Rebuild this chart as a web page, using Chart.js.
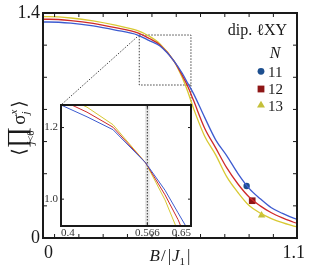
<!DOCTYPE html>
<html>
<head>
<meta charset="utf-8">
<script src="https://cdn.jsdelivr.net/npm/chart.js@4.4.1/dist/chart.umd.min.js"></script>
<style>
  html, body { margin: 0; padding: 0; background: #fff; }
  #wrap { position: relative; width: 312px; height: 267px; overflow: hidden; }
  #main { position: absolute; left: 0; top: 0; }
  #inset { position: absolute; left: 40px; top: 100px; }
</style>
</head>
<body>
<div id="wrap">
  <canvas id="main" width="312" height="267"></canvas>
  <canvas id="inset" width="156" height="142"></canvas>
</div>
<script>
const fieldB = [-0.025, 0, 0.1, 0.2, 0.3, 0.4, 0.45, 0.5, 0.563, 0.6, 0.625, 0.65, 0.7, 0.75, 0.8, 0.85, 0.9, 0.95, 1.0, 1.05, 1.1, 1.125];
const mag11 = [1.344, 1.344, 1.337, 1.320, 1.294, 1.263, 1.230, 1.194, 1.101, 1.025, 0.962, 0.900, 0.752, 0.611, 0.511, 0.401, 0.309, 0.244, 0.188, 0.153, 0.123, 0.112];
const mag12 = [1.361, 1.361, 1.353, 1.336, 1.309, 1.277, 1.243, 1.201, 1.101, 1.012, 0.943, 0.858, 0.685, 0.561, 0.436, 0.336, 0.255, 0.200, 0.157, 0.125, 0.098, 0.089];
const mag13 = [1.377, 1.377, 1.369, 1.351, 1.324, 1.290, 1.257, 1.208, 1.101, 0.998, 0.910, 0.808, 0.635, 0.517, 0.380, 0.283, 0.202, 0.155, 0.121, 0.095, 0.074, 0.068];
const sizes = ['11', '12', '13'];
const markerB = [0.889, 0.914, 0.956];
const markerMag = [0.324, 0.232, 0.141];

const xTickValues = [0, 1.1];
const xTickLabels = ['0', '1.1'];
const yTickValues = [0, 1.4];
const yTickLabels = ['0', '1.4'];
const xMinorTicks = [0.027, 0.136, 0.245, 0.354, 0.464, 0.573, 0.682, 0.791, 0.900, 1.009];
const yMinorTicks = [0.2, 0.4, 0.6, 0.8, 1.0, 1.2];

const insetXTickValues = [0.4, 0.566, 0.65];
const insetXTickLabels = ['0.4', '0.566', '0.65'];
const insetYTickValues = [1.0, 1.2];
const insetYTickLabels = ['1.0', '1.2'];
const criticalB = 0.566;
const zoomBoxB = [0.407, 0.639];
const zoomBoxMag = [0.952, 1.263];

const SERIF = '"Liberation Serif", "DejaVu Serif", serif';
const INK = '#1a1a1a';
const LINE_COLORS = ['#3d5bd0', '#cf2a2a', '#d8c932'];
const MARK_COLORS = ['#1d4f8f', '#8e1616', '#c4c03a'];
const MARK_STYLES = ['circle', 'rect', 'triangle'];
const INSET_POS = { left: 40, top: 100 };

Chart.defaults.font.family = SERIF;

function fixSize(prop, size) {
  return s => {
    s[prop] = size;
    s.paddingTop = s.paddingBottom = s.paddingLeft = s.paddingRight = 0;
  };
}

function curveSets(width, smooth) {
  return [mag11, mag12, mag13].map((vals, i) => ({
    label: 'N = ' + sizes[i],
    data: fieldB.map((b, j) => ({ x: b, y: vals[j] })),
    showLine: true,
    borderColor: LINE_COLORS[i],
    borderWidth: width,
    pointRadius: 0,
    tension: 0,
    cubicInterpolationMode: smooth ? 'monotone' : 'default'
  }));
}

const markerSets = sizes.map((n, i) => ({
  label: 'marker ' + n,
  data: [{ x: markerB[i], y: markerMag[i] }],
  showLine: false,
  pointStyle: MARK_STYLES[i],
  pointRadius: [3.2, 4.7, 4.3][i],
  backgroundColor: MARK_COLORS[i],
  borderColor: MARK_COLORS[i],
  borderWidth: 0
}));

function drawMarker(ctx, style, x, y, r, color) {
  ctx.fillStyle = color;
  ctx.beginPath();
  if (style === 'circle') {
    ctx.arc(x, y, r, 0, Math.PI * 2);
  } else if (style === 'rect') {
    ctx.rect(x - r, y - r, 2 * r, 2 * r);
  } else {
    for (let k = 0; k < 3; k++) {
      const a = k * 2 * Math.PI / 3;
      const px = x + Math.sin(a) * r, py = y - Math.cos(a) * r;
      k ? ctx.lineTo(px, py) : ctx.moveTo(px, py);
    }
    ctx.closePath();
  }
  ctx.fill();
}

// frame + inward ticks, shared by both panels
function drawFrame(ctx, area, xs, ys, xVals, yVals, len) {
  ctx.save();
  ctx.strokeStyle = INK;
  ctx.lineWidth = 1;
  ctx.beginPath();
  for (const v of xVals) {
    const px = xs.getPixelForValue(v);
    ctx.moveTo(px, area.top); ctx.lineTo(px, area.top + len);
    ctx.moveTo(px, area.bottom); ctx.lineTo(px, area.bottom - len);
  }
  for (const v of yVals) {
    const py = ys.getPixelForValue(v);
    ctx.moveTo(area.left, py); ctx.lineTo(area.left + len, py);
    ctx.moveTo(area.right, py); ctx.lineTo(area.right - len, py);
  }
  ctx.stroke();
  ctx.lineWidth = 2;
  ctx.strokeRect(area.left, area.top, area.right - area.left, area.bottom - area.top);
  ctx.restore();
}

const mainDecor = {
  id: 'mainDecor',
  beforeDatasetsDraw(chart) {
    const { ctx, scales: { x, y } } = chart;
    const l = x.getPixelForValue(zoomBoxB[0]), r = x.getPixelForValue(zoomBoxB[1]);
    const t = y.getPixelForValue(zoomBoxMag[1]), b = y.getPixelForValue(zoomBoxMag[0]);
    ctx.save();
    ctx.strokeStyle = '#444';
    ctx.lineWidth = 1;
    ctx.setLineDash([1.5, 1.5]);
    ctx.strokeRect(l, t, r - l, b - t);
    // connectors to the inset corners (inset area starts 21px / 5px into its canvas)
    ctx.beginPath();
    ctx.moveTo(l, t); ctx.lineTo(INSET_POS.left + 21, INSET_POS.top + 5);
    ctx.moveTo(r, b); ctx.lineTo(INSET_POS.left + 151, INSET_POS.top + 5);
    ctx.stroke();
    ctx.restore();
  },
  afterDraw(chart) {
    const { ctx, chartArea, scales: { x, y } } = chart;
    drawFrame(ctx, chartArea, x, y, xMinorTicks, yMinorTicks, 4);

    ctx.save();
    ctx.fillStyle = INK;
    ctx.textBaseline = 'alphabetic';

    // x title: B/|J_1|
    const xt = [
      { t: 'B', f: `italic 17px ${SERIF}`, pad: 0 },
      { t: '/', f: `17px ${SERIF}`, pad: 1 },
      { t: '|', f: `17px ${SERIF}`, pad: 2 },
      { t: 'J', f: `italic 17px ${SERIF}`, pad: 1 },
      { t: '1', f: `11px ${SERIF}`, pad: 0, dy: 4 },
      { t: '|', f: `17px ${SERIF}`, pad: 2 }
    ];
    let tw = 0;
    xt.forEach(p => { ctx.font = p.f; p.w = ctx.measureText(p.t).width; tw += p.w + p.pad; });
    let cx = 170 - tw / 2;
    xt.forEach(p => { ctx.font = p.f; cx += p.pad; ctx.fillText(p.t, cx, 261 + (p.dy || 0)); cx += p.w; });

    // y title: <prod_{j<6} sigma^x_j>, rotated
    ctx.save();
    ctx.translate(25, 128);
    ctx.rotate(-Math.PI / 2);
    const f18 = `19px ${SERIF}`, fProd = `26px ${SERIF}`, fSmall = `italic 11px ${SERIF}`, fSub = `10px ${SERIF}`;
    ctx.font = f18; const wL = ctx.measureText('⟨').width, wS = ctx.measureText('σ').width, wR = ctx.measureText('⟩').width;
    ctx.font = fProd; const wP = ctx.measureText('∏').width;
    ctx.font = fSmall; const wx = ctx.measureText('x').width;
    const total = wL + wP + 2 + wS + wx + 2 + wR;
    let rx = -total / 2;
    ctx.font = f18; ctx.fillText('⟨', rx, 0); rx += wL;
    ctx.font = fProd; ctx.fillText('∏', rx, 0);
    ctx.font = fSmall; const wj = ctx.measureText('j').width;
    ctx.font = fSub; const wlt = ctx.measureText('<6').width;
    let sx = rx + wP / 2 - (wj + wlt) / 2;
    ctx.font = fSmall; ctx.fillText('j', sx, 9);
    ctx.font = fSub; ctx.fillText('<6', sx + wj, 9);
    rx += wP + 2;
    ctx.font = f18; ctx.fillText('σ', rx, 0); rx += wS;
    ctx.font = fSmall; ctx.fillText('x', rx, -8); ctx.fillText('j', rx, 4); rx += wx + 2;
    ctx.font = f18; ctx.fillText('⟩', rx, 0);
    ctx.restore();

    // legend
    ctx.font = `16px ${SERIF}`;
    ctx.textAlign = 'right';
    ctx.fillText('dip. ℓXY', 287, 35);
    ctx.font = `italic 16px ${SERIF}`;
    ctx.textAlign = 'center';
    ctx.fillText('N', 275, 58);
    ctx.textAlign = 'left';
    ctx.font = `15px ${SERIF}`;
    const rowY = [71.3, 89, 105.3];
    sizes.forEach((n, i) => {
      drawMarker(ctx, MARK_STYLES[i], 261, rowY[i], [3.4, 3.4, 4.6][i], MARK_COLORS[i]);
      ctx.fillStyle = INK;
      ctx.fillText(n, 268, rowY[i] + 5.3);
    });
    ctx.restore();
  }
};

new Chart(document.getElementById('main'), {
  type: 'scatter',
  data: { datasets: [...curveSets(1.3, true), ...markerSets] },
  options: {
    responsive: false,
    animation: false,
    devicePixelRatio: 1,
    layout: { padding: { left: 0, top: 13, right: 15, bottom: 0 } },
    plugins: { legend: { display: false }, tooltip: { enabled: false } },
    scales: {
      x: {
        type: 'linear', min: -0.025, max: 1.115,
        afterFit: fixSize('height', 29),
        afterBuildTicks: s => { s.ticks = xTickValues.map(v => ({ value: v })); },
        ticks: { callback: (v, i) => xTickLabels[i], font: { size: 18 }, color: INK, padding: 4, maxRotation: 0, autoSkip: false },
        grid: { display: false, drawTicks: false },
        border: { display: false }
      },
      y: {
        type: 'linear', min: 0, max: 1.4,
        afterFit: fixSize('width', 43),
        afterBuildTicks: s => { s.ticks = yTickValues.map(v => ({ value: v })); },
        ticks: { callback: (v, i) => yTickLabels[i], font: { size: 18 }, color: INK, padding: 3, autoSkip: false },
        grid: { display: false, drawTicks: false },
        border: { display: false }
      }
    }
  },
  plugins: [mainDecor]
});

const insetDecor = {
  id: 'insetDecor',
  beforeDraw(chart) {
    const { ctx, chartArea: a } = chart;
    ctx.save();
    ctx.fillStyle = '#fff';
    ctx.fillRect(a.left, a.top, a.right - a.left, a.bottom - a.top);
    ctx.restore();
  },
  beforeDatasetsDraw(chart) {
    const { ctx, chartArea: a, scales: { x } } = chart;
    const px = x.getPixelForValue(criticalB);
    ctx.save();
    ctx.fillStyle = 'rgba(0,0,0,0.09)';
    ctx.fillRect(px - 2.4, a.top, 4.8, a.bottom - a.top);
    ctx.strokeStyle = '#333';
    ctx.lineWidth = 1;
    ctx.setLineDash([1.5, 1.5]);
    ctx.beginPath();
    ctx.moveTo(px, a.top); ctx.lineTo(px, a.bottom);
    ctx.stroke();
    ctx.restore();
  },
  afterDraw(chart) {
    const { ctx, chartArea, scales: { x, y } } = chart;
    drawFrame(ctx, chartArea, x, y, insetXTickValues, insetYTickValues, 3);
  }
};

new Chart(document.getElementById('inset'), {
  type: 'scatter',
  data: { datasets: curveSets(1, false) },
  options: {
    responsive: false,
    animation: false,
    devicePixelRatio: 1,
    layout: { padding: { left: 0, top: 5, right: 5, bottom: 0 } },
    plugins: { legend: { display: false }, tooltip: { enabled: false } },
    scales: {
      x: {
        type: 'linear', min: 0.4, max: 0.65,
        afterFit: fixSize('height', 16),
        afterBuildTicks: s => { s.ticks = insetXTickValues.map(v => ({ value: v })); },
        ticks: { callback: (v, i) => insetXTickLabels[i], font: { size: 11 }, color: '#333', padding: 1, align: 'inner', maxRotation: 0, autoSkip: false },
        grid: { display: false, drawTicks: false },
        border: { display: false }
      },
      y: {
        type: 'linear', min: 0.925, max: 1.263,
        afterFit: fixSize('width', 21),
        afterBuildTicks: s => { s.ticks = insetYTickValues.map(v => ({ value: v })); },
        ticks: { callback: (v, i) => insetYTickLabels[i], font: { size: 11 }, color: '#333', padding: 3, autoSkip: false },
        grid: { display: false, drawTicks: false },
        border: { display: false }
      }
    }
  },
  plugins: [insetDecor]
});
</script>
</body>
</html>
